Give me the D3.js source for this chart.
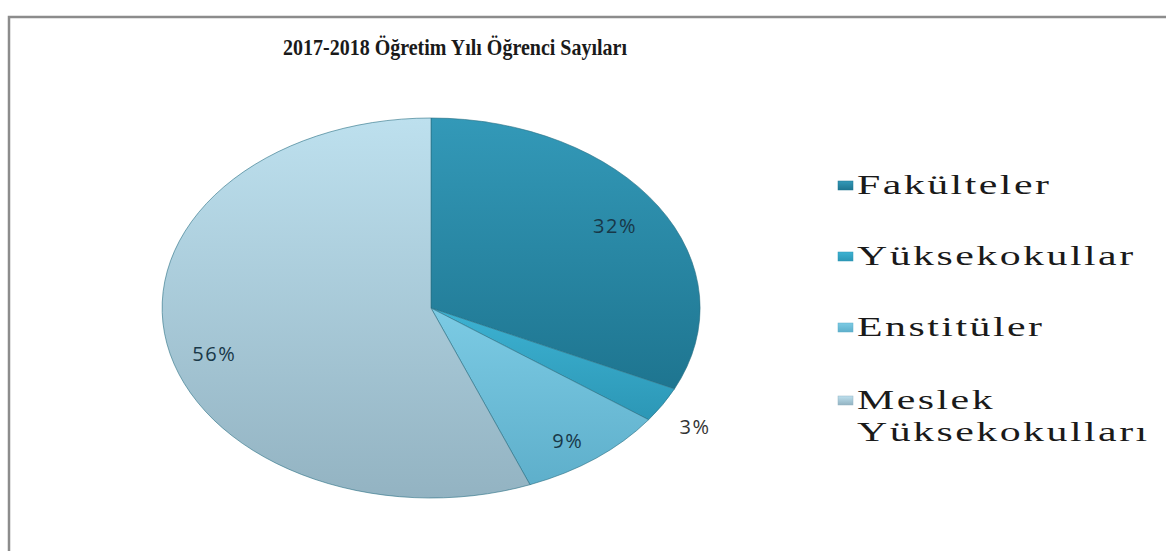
<!DOCTYPE html>
<html>
<head>
<meta charset="utf-8">
<script src="https://cdn.jsdelivr.net/npm/d3@7.9.0/dist/d3.min.js"></script>
<style>
  body { margin: 0; background: #fff; }
  svg { display: block; }
</style>
</head>
<body>
<div id="chart"></div>
<script>
// data
const categories = ['Fakülteler', 'Yüksekokullar', 'Enstitüler', 'Meslek Yüksekokulları'];
const values = [32, 3, 9, 56];
const legendLines = [['Fakülteler'], ['Yüksekokullar'], ['Enstitüler'], ['Meslek', 'Yüksekokulları']];
const title = '2017-2018 Öğretim Yılı  Öğrenci Sayıları';

// slice colours (top, bottom of gradient)
const colTop = ['#3399b8', '#3db2d2', '#7ccbe4', '#bde0ee'];
const colBot = ['#1e7590', '#2c97b6', '#5eafcb', '#93b3c2'];

const width = 1166, height = 551;
const svg = d3.select('#chart').append('svg')
  .attr('width', width).attr('height', height);

// frame around the chart
svg.append('rect')
  .attr('x', 9).attr('y', 17).attr('width', 1170).attr('height', 560)
  .attr('fill', '#fff').attr('stroke', '#8c8c8c').attr('stroke-width', 2.5);

const defs = svg.append('defs');
colTop.forEach((c, i) => {
  const g = defs.append('linearGradient').attr('id', 'g' + i)
    .attr('x1', 0).attr('y1', 0).attr('x2', 0).attr('y2', 1);
  g.append('stop').attr('offset', '0%').attr('stop-color', c);
  g.append('stop').attr('offset', '100%').attr('stop-color', colBot[i]);
});

// title
svg.append('text')
  .attr('x', 455).attr('y', 55)
  .attr('text-anchor', 'middle')
  .style('font-family', '"Liberation Serif", "DejaVu Serif", serif')
  .style('font-weight', 'bold')
  .style('font-size', '23px')
  .attr('fill', '#1a1a1a')
  .attr('textLength', 344).attr('lengthAdjust', 'spacingAndGlyphs')
  .text(title);

// pie drawn in a unit circle, squashed into an ellipse
const cx = 431, cy = 308, rx = 269, ry = 190;
const pie = d3.pie().sort(null).value(d => d)(values);
const arc = d3.arc().innerRadius(0).outerRadius(1);

const pg = svg.append('g').attr('transform', `translate(${cx},${cy}) scale(${rx},${ry})`);
pg.selectAll('path')
  .data(pie)
  .join('path')
  .attr('d', arc)
  .attr('fill', (d, i) => `url(#g${i})`)
  .attr('stroke', '#2a6f84')
  .attr('stroke-opacity', 0.6)
  .attr('stroke-width', 1)
  .attr('vector-effect', 'non-scaling-stroke');

// percentage labels
const labelR = [0.81, 1.14, 0.83, 0.82];
const labelDy = [0, 8, 8, 16];
svg.append('g').selectAll('text')
  .data(pie)
  .join('text')
  .attr('x', (d, i) => cx + Math.sin((d.startAngle + d.endAngle) / 2) * labelR[i] * rx)
  .attr('y', (d, i) => cy - Math.cos((d.startAngle + d.endAngle) / 2) * labelR[i] * ry + labelDy[i])
  .attr('text-anchor', 'middle')
  .attr('dominant-baseline', 'central')
  .style('font-family', '"Open Sans", "Noto Sans", sans-serif')
  .style('font-size', '20px')
  .style('letter-spacing', '1.5px')
  .attr('fill', (d, i) => i === 1 ? '#333' : '#183848')
  .text(d => d.value + '%');

// legend
const legY = [185, 256, 327, 400];
const leg = svg.append('g');
legendLines.forEach((lines, i) => {
  leg.append('rect')
    .attr('x', 838).attr('y', legY[i] - 4).attr('width', 15).attr('height', 9)
    .attr('fill', `url(#g${i})`).attr('stroke', colBot[i]).attr('stroke-width', 0.5);
  lines.forEach((s, j) => {
    leg.append('text')
      .attr('transform', `translate(857,${legY[i] + 9 + j * 32}) scale(1.55,1)`)
      .style('font-family', '"Liberation Serif", "DejaVu Serif", serif')
      .style('font-size', '27px')
      .style('letter-spacing', '1.6px')
      .attr('fill', '#1a1a1a')
      .text(s);
  });
});
</script>
</body>
</html>
